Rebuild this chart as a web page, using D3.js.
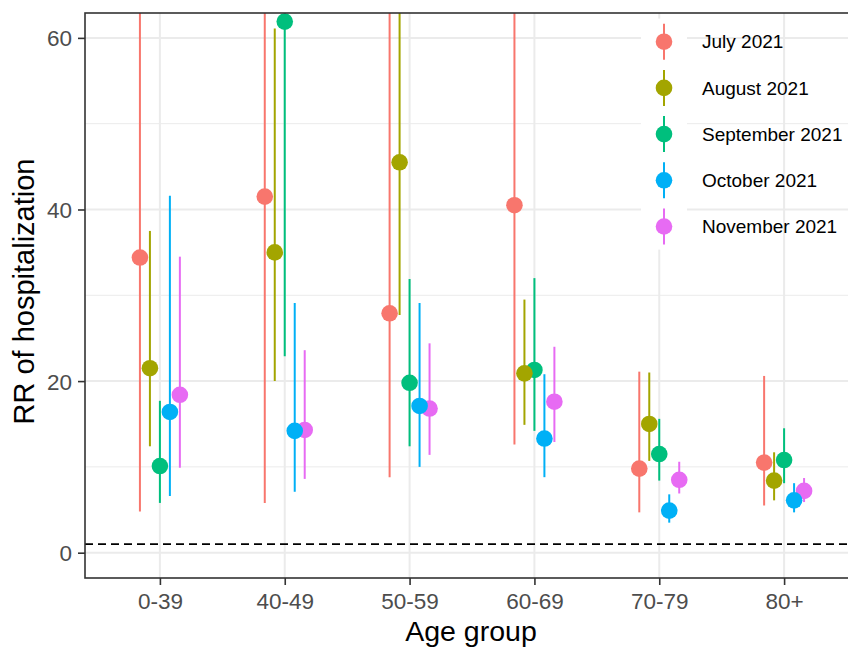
<!DOCTYPE html>
<html>
<head>
<meta charset="utf-8">
<script src="https://cdn.jsdelivr.net/npm/d3@7.9.0/dist/d3.min.js"></script>
<style>
  body { margin: 0; background: #fff; }
  svg { display: block; font-family: "Liberation Sans", Arial, sans-serif; }
</style>
</head>
<body>
<svg width="848" height="649"></svg>
<script>
// categories
const ageGroups = ['0-39', '40-49', '50-59', '60-69', '70-79', '80+'];
const months = ['July 2021', 'August 2021', 'September 2021', 'October 2021', 'November 2021'];
const colors = ['#F8766D', '#A3A500', '#00BF7D', '#00B0F6', '#E76BF3'];
const yTicks = [0, 20, 40, 60];
const yMinor = [10, 30, 50];

// point estimates of RR, one array per month
const rrJuly = [34.4, 41.5, 27.9, 40.5, 9.8, 10.5];
const rrAugust = [21.5, 35.0, 45.5, 20.9, 15.0, 8.4];
const rrSeptember = [10.1, 61.9, 19.8, 21.3, 11.5, 10.8];
const rrOctober = [16.4, 14.2, 17.1, 13.3, 4.9, 6.1];
const rrNovember = [18.4, 14.3, 16.8, 17.6, 8.5, 7.2];

// lower CI bounds
const loJuly = [4.8, 5.8, 8.8, 12.6, 4.7, 5.5];
const loAugust = [12.4, 20.0, 27.7, 14.9, 10.7, 6.1];
const loSeptember = [5.8, 22.9, 12.4, 14.2, 8.4, 8.1];
const loOctober = [6.6, 7.1, 10.0, 8.8, 3.5, 4.7];
const loNovember = [9.9, 8.6, 11.4, 12.9, 6.9, 5.9];

// upper CI bounds (those above 63 run off the top of the panel)
const hiJuly = [90, 95, 85, 110, 21.1, 20.6];
const hiAugust = [37.5, 61.1, 80, 29.5, 21.0, 11.7];
const hiSeptember = [17.7, 140, 31.9, 32.0, 15.6, 14.5];
const hiOctober = [41.6, 29.1, 29.1, 20.8, 6.8, 8.1];
const hiNovember = [34.5, 23.6, 24.4, 24.0, 10.6, 8.7];

const refLine = 1;

const rr = [rrJuly, rrAugust, rrSeptember, rrOctober, rrNovember];
const lo = [loJuly, loAugust, loSeptember, loOctober, loNovember];
const hi = [hiJuly, hiAugust, hiSeptember, hiOctober, hiNovember];

const rows = [];
months.forEach((m, i) => {
  ageGroups.forEach((g, j) => {
    rows.push({ month: m, group: g, est: rr[i][j], lo: lo[i][j], hi: hi[i][j] });
  });
});

const svg = d3.select('svg');
const panel = { left: 85, right: 859, top: 13, bottom: 578 };

// discrete x with ggplot's 0.6 expansion on each side
const step = (panel.right - panel.left) / (ageGroups.length - 1 + 1.2);
const x = d3.scalePoint()
  .domain(ageGroups)
  .range([panel.left + 0.6 * step, panel.right - 0.6 * step]);

// dodge width 0.4
const dodge = d3.scalePoint()
  .domain(months)
  .range([-0.16 * step, 0.16 * step]);

const y = d3.scaleLinear()
  .domain([-2.95, 62.9])
  .range([panel.bottom, panel.top]);

const color = d3.scaleOrdinal().domain(months).range(colors);

svg.append('defs').append('clipPath').attr('id', 'clip')
  .append('rect')
  .attr('x', panel.left).attr('y', panel.top)
  .attr('width', panel.right - panel.left).attr('height', panel.bottom - panel.top);

// grid
const grid = svg.append('g');
grid.selectAll('.minor').data(yMinor).join('line')
  .attr('x1', panel.left).attr('x2', panel.right)
  .attr('y1', d => y(d)).attr('y2', d => y(d))
  .attr('stroke', '#EBEBEB').attr('stroke-width', 1);
grid.selectAll('.major').data(yTicks).join('line')
  .attr('x1', panel.left).attr('x2', panel.right)
  .attr('y1', d => y(d)).attr('y2', d => y(d))
  .attr('stroke', '#EBEBEB').attr('stroke-width', 2);
grid.selectAll('.vmajor').data(ageGroups).join('line')
  .attr('x1', d => x(d)).attr('x2', d => x(d))
  .attr('y1', panel.top).attr('y2', panel.bottom)
  .attr('stroke', '#EBEBEB').attr('stroke-width', 2);

// reference line at RR = 1
svg.append('line')
  .attr('x1', panel.left).attr('x2', panel.right)
  .attr('y1', y(refLine)).attr('y2', y(refLine))
  .attr('stroke', '#000').attr('stroke-width', 1.8)
  .attr('stroke-dasharray', '8,5');

// point ranges, later months drawn underneath
const marks = svg.append('g').attr('clip-path', 'url(#clip)');
const order = rows.slice().reverse();
const pr = marks.selectAll('g.pr').data(order).join('g').attr('class', 'pr');
pr.append('line')
  .attr('x1', d => x(d.group) + dodge(d.month))
  .attr('x2', d => x(d.group) + dodge(d.month))
  .attr('y1', d => y(d.lo)).attr('y2', d => y(d.hi))
  .attr('stroke', d => color(d.month)).attr('stroke-width', 2);
pr.append('circle')
  .attr('cx', d => x(d.group) + dodge(d.month))
  .attr('cy', d => y(d.est))
  .attr('r', 8.3)
  .attr('fill', d => color(d.month));

// panel border
svg.append('rect')
  .attr('x', panel.left).attr('y', panel.top)
  .attr('width', panel.right - panel.left).attr('height', panel.bottom - panel.top)
  .attr('fill', 'none').attr('stroke', '#333333').attr('stroke-width', 1.6);

// axes
const yAxis = svg.append('g')
  .attr('transform', `translate(${panel.left},0)`)
  .call(d3.axisLeft(y).tickValues(yTicks).tickSize(7).tickPadding(6));
const xAxis = svg.append('g')
  .attr('transform', `translate(0,${panel.bottom})`)
  .call(d3.axisBottom(x).tickSize(7).tickPadding(8));
[yAxis, xAxis].forEach(a => {
  a.select('.domain').remove();
  a.selectAll('.tick line').attr('stroke', '#333333').attr('stroke-width', 1.6);
  a.selectAll('.tick text')
    .attr('fill', '#4D4D4D')
    .style('font-size', '22.5px')
    .style('font-family', '"Liberation Sans", Arial, sans-serif');
});
yAxis.selectAll('.tick text').attr('dy', '0.36em');
xAxis.selectAll('.tick text').attr('dy', '0.72em');

// axis titles
svg.append('text')
  .attr('x', (panel.left + panel.right) / 2 - 1).attr('y', 641)
  .attr('text-anchor', 'middle')
  .style('font-size', '28.5px')
  .text('Age group');
svg.append('text')
  .attr('transform', `translate(34,${(panel.top + panel.bottom) / 2 - 4}) rotate(-90)`)
  .attr('text-anchor', 'middle')
  .style('font-size', '29px')
  .text('RR of hospitalization');

// legend
const legend = { x: 641, top: 18.6, keyW: 46, keyH: 46.2 };
const lg = svg.append('g');
lg.append('rect')
  .attr('x', legend.x).attr('y', legend.top)
  .attr('width', legend.keyW).attr('height', legend.keyH * months.length)
  .attr('fill', '#fff');
const keys = lg.selectAll('g.key').data(months).join('g')
  .attr('class', 'key')
  .attr('transform', (d, i) => `translate(${legend.x + legend.keyW / 2},${legend.top + legend.keyH * (i + 0.5)})`);
keys.append('line')
  .attr('y1', -18).attr('y2', 18)
  .attr('stroke', d => color(d)).attr('stroke-width', 2);
keys.append('circle').attr('r', 8.3).attr('fill', d => color(d));
keys.append('text')
  .attr('x', 38).attr('dy', '0.35em')
  .style('font-size', '19px')
  .text(d => d);
</script>
</body>
</html>
